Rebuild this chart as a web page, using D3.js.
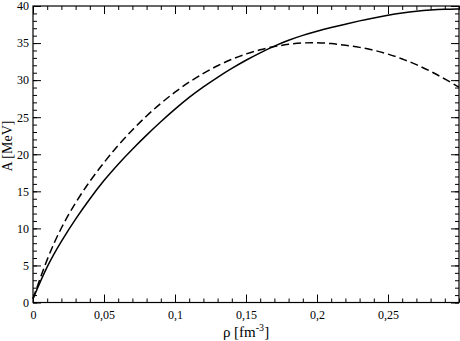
<!DOCTYPE html>
<html>
<head>
<meta charset="utf-8">
<script src="https://cdn.jsdelivr.net/npm/d3@7"></script>
<style>
  body { margin: 0; background: #fff; }
  svg { display: block; }
  .axis path { display: none; }
  .axis line { stroke: #000; }
  .serif { font-family: "Liberation Serif", Tinos, "Times New Roman", Times, "Noto Serif", "DejaVu Serif", FreeSerif, serif; }
</style>
</head>
<body>
<svg width="460" height="341"></svg>
<script>
// density values (fm^-3)
var rho = [0, 0.01, 0.02, 0.03, 0.04, 0.05, 0.06, 0.07, 0.08, 0.09, 0.10,
           0.11, 0.12, 0.13, 0.14, 0.15, 0.16, 0.17, 0.18, 0.19, 0.20,
           0.21, 0.22, 0.23, 0.24, 0.25, 0.26, 0.27, 0.28, 0.29, 0.30];
// solid curve (MeV)
var solidA = [0.5, 5.0, 8.3, 11.3, 14.0, 16.5, 18.7, 20.7, 22.6, 24.4, 26.1,
              27.7, 29.1, 30.4, 31.6, 32.7, 33.7, 34.6, 35.4, 36.05, 36.6,
              37.1, 37.55, 38.0, 38.4, 38.77, 39.06, 39.3, 39.46, 39.56, 39.6];
// dashed curve (MeV)
var dashedA = [0.5, 6.0, 10.2, 13.5, 16.4, 18.9, 21.25, 23.3, 25.2, 26.9, 28.4,
               29.76, 30.94, 31.96, 32.83, 33.55, 34.12, 34.55, 34.84, 35.04, 35.06,
               34.95, 34.7, 34.44, 34.05, 33.53, 32.88, 32.11, 31.2, 30.17, 29.05];

var xTicks = [0, 0.05, 0.1, 0.15, 0.2, 0.25];
var yTicks = [0, 5, 10, 15, 20, 25, 30, 35, 40];
var xMinor = d3.range(0, 0.3001, 0.01);
var yMinor = d3.range(0, 40.001, 1);

var margin = {top: 6, right: 1, bottom: 38.5, left: 33},
    width = 460 - margin.left - margin.right,
    height = 341 - margin.top - margin.bottom;

var x = d3.scaleLinear().domain([0, 0.3]).range([0, width]);
var y = d3.scaleLinear().domain([0, 40]).range([height, 0]);

var svg = d3.select("svg").append("g")
    .attr("transform", "translate(" + margin.left + "," + margin.top + ")");

function fmt(d) { return d === 0 ? "0" : String(+d.toFixed(2)).replace(".", ","); }

// minor ticks on all sides
svg.append("g").attr("class", "axis").attr("transform", "translate(0," + height + ")")
    .call(d3.axisBottom(x).tickValues(xMinor).tickSize(-4).tickFormat(""));
svg.append("g").attr("class", "axis")
    .call(d3.axisTop(x).tickValues(xMinor).tickSize(-4).tickFormat(""));
svg.append("g").attr("class", "axis")
    .call(d3.axisLeft(y).tickValues(yMinor).tickSize(-4).tickFormat(""));
svg.append("g").attr("class", "axis").attr("transform", "translate(" + width + ",0)")
    .call(d3.axisRight(y).tickValues(yMinor).tickSize(-4).tickFormat(""));

// major ticks with labels
var xAxisG = svg.append("g").attr("class", "axis").attr("transform", "translate(0," + height + ")")
    .call(d3.axisBottom(x).tickValues(xTicks).tickSize(-8).tickPadding(5).tickFormat(fmt));
xAxisG.selectAll("text").attr("dy", "0.95em");
svg.append("g").attr("class", "axis")
    .call(d3.axisTop(x).tickValues(xTicks).tickSize(-8).tickFormat(""));
var yAxisG = svg.append("g").attr("class", "axis")
    .call(d3.axisLeft(y).tickValues(yTicks).tickSize(-8).tickPadding(4).tickFormat(fmt));
svg.append("g").attr("class", "axis").attr("transform", "translate(" + width + ",0)")
    .call(d3.axisRight(y).tickValues(yTicks).tickSize(-8).tickFormat(""));

[xAxisG, yAxisG].forEach(function(g) {
  g.attr("font-family", null).attr("font-size", 12);
  g.selectAll("text").attr("class", "serif").attr("fill", "#000");
});

// frame
svg.append("rect")
    .attr("width", width).attr("height", height)
    .style("fill", "none").style("stroke", "#000").style("stroke-width", 1.2);

var line = d3.line()
    .x(function(d) { return x(d[0]); })
    .y(function(d) { return y(d[1]); })
    .curve(d3.curveBasis);

svg.append("path")
    .datum(rho.map(function(r, i) { return [r, solidA[i]]; }))
    .attr("d", line)
    .style("fill", "none").style("stroke", "#000").style("stroke-width", 1.5);

svg.append("path")
    .datum(rho.map(function(r, i) { return [r, dashedA[i]]; }))
    .attr("d", line)
    .style("fill", "none").style("stroke", "#000").style("stroke-width", 1.5)
    .style("stroke-dasharray", "8,4");

// axis titles
var root = d3.select("svg");
var xt = root.append("text")
    .attr("class", "serif")
    .attr("x", 246).attr("y", 337)
    .attr("text-anchor", "middle")
    .attr("font-size", 15);
xt.append("tspan").text("\u03c1 [fm");
xt.append("tspan").attr("dy", -6).attr("font-size", 10).text("-3");
xt.append("tspan").attr("dy", 6).text("]");

root.append("text")
    .attr("class", "serif")
    .attr("transform", "translate(12,146) rotate(-90)")
    .attr("text-anchor", "middle")
    .attr("font-size", 14)
    .text("A [MeV]");
</script>
</body>
</html>
